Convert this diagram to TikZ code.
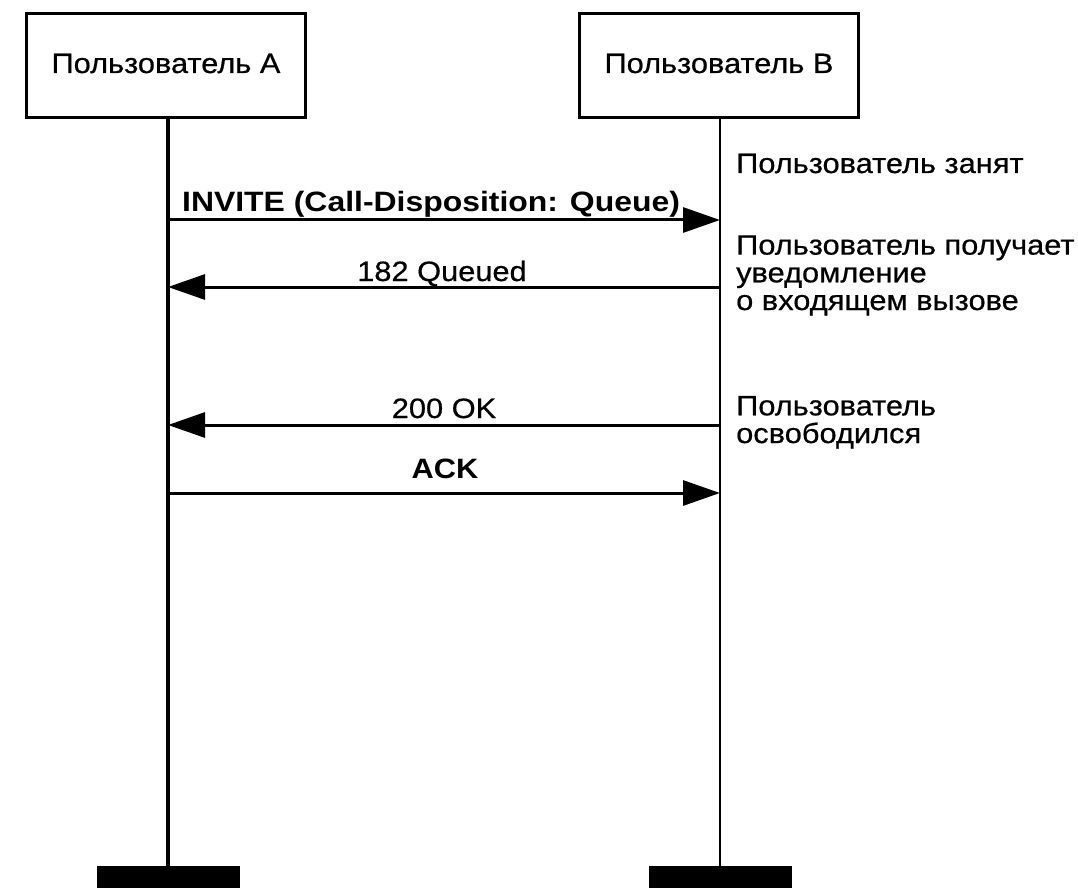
\documentclass[tikz,border=0pt]{standalone}
\usepackage{fontspec}
\setmainfont{Liberation Sans}[FakeStretch=1.1, UprightFeatures={FakeBold=0.6}]
\newfontfamily\widefont{Liberation Sans}[FakeStretch=1.14]
\usetikzlibrary{arrows.meta}
\tikzset{
  lbox/.style={draw, line width=3pt, minimum width=279pt, minimum height=104pt, inner sep=0pt},
  life/.style={line width=3.2pt},
  msg/.style={line width=3pt, -{Triangle[length=37pt,width=25pt]}},
  lbl/.style={font=\fontsize{28}{28}\selectfont, inner sep=0pt, anchor=base},
  blbl/.style={font=\fontsize{28}{28}\bfseries\selectfont, inner sep=0pt, anchor=base},
  note/.style={font=\fontsize{28}{27.7}\selectfont, inner sep=0pt, anchor=base west, align=left},
  endbar/.style={fill=black, minimum width=143pt, minimum height=22pt, inner sep=0pt}
}
\begin{document}
\begin{tikzpicture}[x=1pt,y=-1pt]
\useasboundingbox (0,0) rectangle (1078,893);
\node[lbox] (A) at (166,66) {};
\node[lbl] (At) at (166,73) {Пользователь A};
\node[lbox] (B) at (719,66) {};
\node[lbl] (Bt) at (719,73) {Пользователь B};
\node[endbar] (Ae) at (168,877) {};
\node[endbar] (Be) at (720,877) {};
\draw[life] (A.south -| Ae.north) -- (Ae.north);
\draw[life, line width=2.4pt] (B.south -| Be.north) -- (Be.north);
\coordinate (a1) at (168,220); \coordinate (b1) at (720,220);
\coordinate (a2) at (168,287); \coordinate (b2) at (720,287);
\coordinate (a3) at (168,425); \coordinate (b3) at (720,425);
\coordinate (a4) at (168,493); \coordinate (b4) at (720,493);
\draw[msg] (a1) -- (b1);
\draw[msg] (b2) -- (a2);
\draw[msg] (b3) -- (a3);
\draw[msg] (a4) -- (b4);
\node[blbl, font=\fontsize{28}{28}\widefont\bfseries] (m1) at (431,212) {INVITE (Call-Disposition: Queue)};
\node[lbl] (m2) at (442,281) {182 Queued};
\node[lbl] (m3) at (444,418) {200 OK};
\node[blbl] (m4) at (445,478) {ACK};
\node[note] (n1) at (736,173) {Пользователь занят};
\node[note] (n2) at (736,310) {Пользователь получает\\уведомление\\о входящем вызове};
\node[note] (n3) at (736,443) {Пользователь\\освободился};
\end{tikzpicture}
\end{document}
